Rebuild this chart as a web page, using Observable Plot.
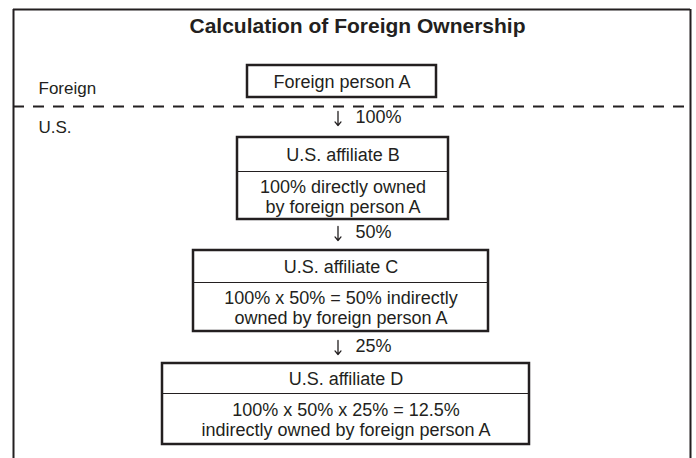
<!DOCTYPE html>
<html>
<head>
<meta charset="utf-8">
<script src="https://cdn.jsdelivr.net/npm/d3@7"></script>
<script src="https://cdn.jsdelivr.net/npm/@observablehq/plot@0.6"></script>
<style>
  html, body { margin: 0; padding: 0; background: #fff; }
</style>
</head>
<body>
<div id="chart"></div>
<script>
// ---- data ----
const title = "Calculation of Foreign Ownership";
const regionLabels = ["Foreign", "U.S."];
const entities = ["Foreign person A", "U.S. affiliate B", "U.S. affiliate C", "U.S. affiliate D"];
const stakes = ["100%", "50%", "25%"];
const descriptions = [
  null,
  ["100% directly owned", "by foreign person A"],
  ["100% x 50% = 50% indirectly", "owned by foreign person A"],
  ["100% x 50% x 25% = 12.5%", "indirectly owned by foreign person A"]
];

// ---- layout (positions, kept apart from the data) ----
const layout = {
  frame: {left: 13, right: 690, top: 9, bottom: 458},
  titlePos: {x: 357, y: 26},
  border: 106,
  regionX: 38,
  regionY: [88, 127],
  boxes: [
    {x1: 247, x2: 436, y1: 65, y2: 97},
    {x1: 237, x2: 448, y1: 137, y2: 171, y3: 219},
    {x1: 193, x2: 488, y1: 250, y2: 282, y3: 331},
    {x1: 162, x2: 529, y1: 363, y2: 393, y3: 444}
  ],
  arrowX: 337.5,
  arrowHalf: 7,
  stakeX: 355,
  stakeY: [117, 232, 346]
};

const ink = "#231f20";
const font = "'Liberation Sans', Arial, Helvetica, sans-serif";

const nodes = entities.map((name, i) => ({name, desc: descriptions[i], ...layout.boxes[i]}));
const described = nodes.filter(d => d.desc);
const links = stakes.map((s, i) => ({label: s, y: layout.stakeY[i]}));
const regions = regionLabels.map((r, i) => ({label: r, y: layout.regionY[i]}));
const F = layout.frame;

const chart = Plot.plot({
  width: 696,
  height: 458,
  margin: 0,
  x: {domain: [0, 696], range: [0, 696], axis: null},
  y: {domain: [0, 458], range: [0, 458], axis: null},
  style: {fontFamily: font, background: "#fff", color: ink},
  marks: [
    // outer frame (open at the bottom)
    Plot.ruleX([F.left, F.right], {x: d => d, y1: () => F.top, y2: () => F.bottom, stroke: ink, strokeWidth: 2}),
    Plot.ruleY([F.top], {y: d => d, x1: () => F.left, x2: () => F.right, stroke: ink, strokeWidth: 2}),
    // foreign / U.S. border
    Plot.ruleY([layout.border], {y: d => d, x1: () => F.left, x2: () => F.right, stroke: ink, strokeWidth: 2, strokeDasharray: "11,9"}),
    // title
    Plot.text([title], {x: () => layout.titlePos.x, y: () => layout.titlePos.y, text: d => d, fontSize: 21, fontWeight: "bold", fill: ink}),
    // region labels
    Plot.text(regions, {x: () => layout.regionX, y: "y", text: "label", textAnchor: "start", fontSize: 17, fill: ink}),
    // boxes
    Plot.rect(nodes, {x1: "x1", x2: "x2", y1: "y1", y2: d => d.y3 ?? d.y2, fill: "#fff", stroke: ink, strokeWidth: 2.5}),
    Plot.ruleY(described, {y: "y2", x1: "x1", x2: "x2", stroke: ink, strokeWidth: 1.2}),
    Plot.text(nodes, {x: d => (d.x1 + d.x2) / 2, y: d => (d.y1 + d.y2) / 2 + 1, text: "name", fontSize: 18, fill: ink}),
    Plot.text(described, {x: d => (d.x1 + d.x2) / 2, y: d => (d.y2 + d.y3) / 2 + 1, text: d => d.desc.join("\n"), fontSize: 18, lineHeight: 1.1, fill: ink}),
    // ownership links
    Plot.arrow(links, {
      x1: () => layout.arrowX, x2: () => layout.arrowX,
      y1: d => d.y + 1 - layout.arrowHalf, y2: d => d.y + 1 + layout.arrowHalf,
      stroke: ink, strokeWidth: 1.3, headLength: 8, headAngle: 80
    }),
    Plot.text(links, {x: () => layout.stakeX, y: "y", text: "label", textAnchor: "start", fontSize: 18, fill: ink})
  ]
});

document.getElementById("chart").appendChild(chart);
</script>
</body>
</html>
